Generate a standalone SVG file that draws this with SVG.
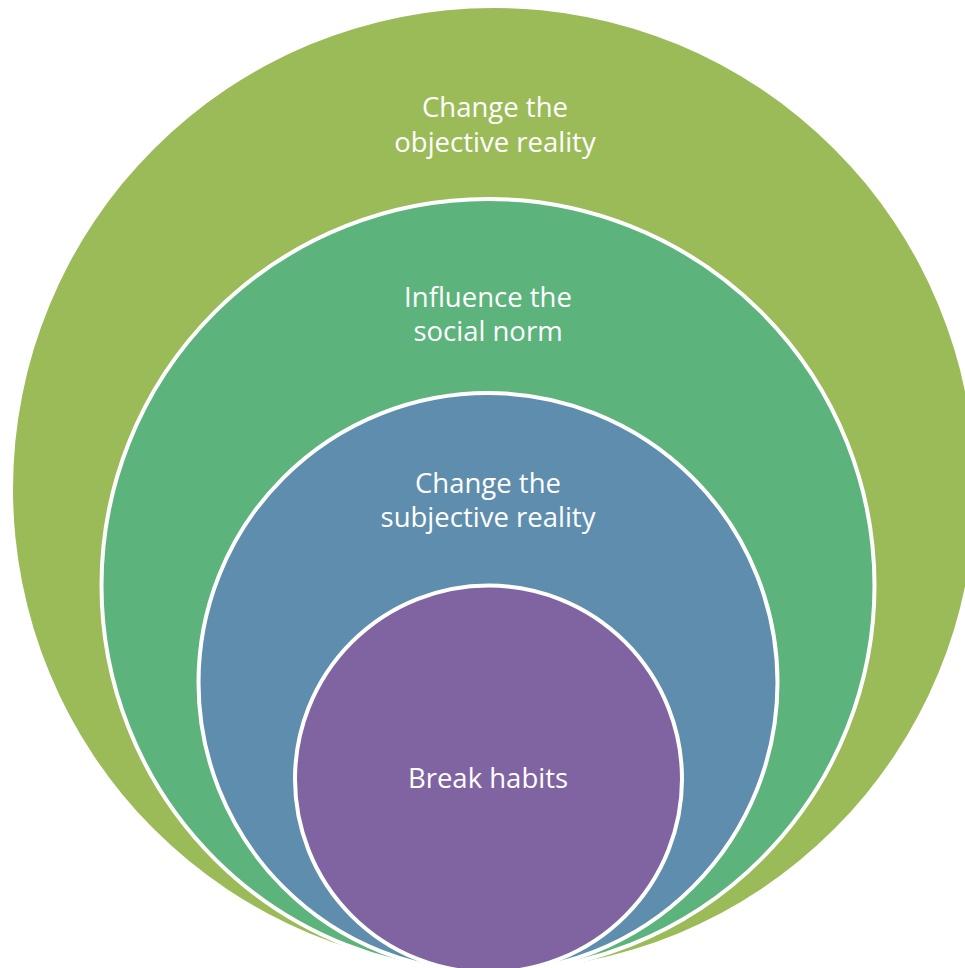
<svg xmlns="http://www.w3.org/2000/svg" width="965" height="968" viewBox="0 0 965 968">
<style>
.c{stroke:#fff;stroke-width:4}
.t{font-family:"Open Sans","Liberation Sans",sans-serif;font-size:27.5px;fill:#fff;text-anchor:middle}
</style>
<rect width="965" height="968" fill="#fff"/>
<g id="n1"><circle cx="494" cy="489" r="481" fill="#9BBB59"/>
<text class="t" x="495" y="117">Change the</text><text class="t" x="495" y="152">objective reality</text></g>
<g id="n2"><circle class="c" cx="488" cy="585.5" r="386.5" fill="#5CB37C"/>
<text class="t" x="488" y="307">Influence the</text><text class="t" x="488" y="341">social norm</text></g>
<g id="n3"><circle class="c" cx="488" cy="682.5" r="289.5" fill="#5F8DAD"/>
<text class="t" x="488" y="493">Change the</text><text class="t" x="488" y="527">subjective reality</text></g>
<g id="n4"><circle class="c" cx="488.5" cy="779" r="193.5" fill="#8064A2"/>
<text class="t" x="488" y="788">Break habits</text></g>
<g id="connectors"/>
</svg>
